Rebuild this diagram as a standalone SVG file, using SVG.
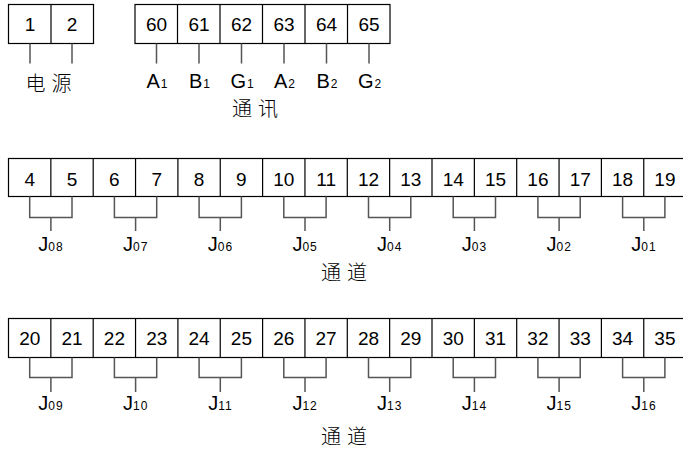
<svg xmlns="http://www.w3.org/2000/svg" width="683" height="452" viewBox="0 0 683 452">
<style>
.box{fill:#fff;stroke:#000;stroke-width:1.2}
.div{stroke:#000;stroke-width:1.2}
.ln{stroke:#555;stroke-width:1.5;fill:none}
.num{font-family:"Liberation Sans",Arial,sans-serif;font-size:19px;text-anchor:middle;fill:#000}
.lab{font-family:"Liberation Sans",Arial,sans-serif;font-size:20px;text-anchor:middle;fill:#000}
.sub{font-size:12px}
.jsub{font-size:12px;letter-spacing:1px}
.cn{font-family:"Noto Sans CJK SC",sans-serif;font-size:20px;font-weight:300;text-anchor:middle;fill:#000;letter-spacing:6px}
</style>
<rect width="683" height="452" fill="#fff"/>
<g id="power">
<rect class="box" x="8.5" y="4.5" width="85" height="39"/>
<line class="div" x1="51" y1="4.5" x2="51" y2="43.5"/>
<text class="num" x="30" y="31">1</text>
<text class="num" x="72" y="31">2</text>
<text class="cn" x="51.5" y="90.5">电源</text>
</g>
<g id="comm">
<rect class="box" x="135" y="4.5" width="255" height="39"/>
<line class="div" x1="177.5" y1="4.5" x2="177.5" y2="43.5"/>
<line class="div" x1="220" y1="4.5" x2="220" y2="43.5"/>
<line class="div" x1="262.5" y1="4.5" x2="262.5" y2="43.5"/>
<line class="div" x1="305" y1="4.5" x2="305" y2="43.5"/>
<line class="div" x1="347.5" y1="4.5" x2="347.5" y2="43.5"/>
<text class="num" x="156.5" y="31">60</text>
<text class="num" x="199" y="31">61</text>
<text class="num" x="241.5" y="31">62</text>
<text class="num" x="284" y="31">63</text>
<text class="num" x="326.5" y="31">64</text>
<text class="num" x="369" y="31">65</text>
<text class="lab" x="157" y="87.5">A<tspan class="sub" dx="1">1</tspan></text>
<text class="lab" x="199.5" y="87.5">B<tspan class="sub" dx="1">1</tspan></text>
<text class="lab" x="242" y="87.5">G<tspan class="sub" dx="1">1</tspan></text>
<text class="lab" x="284.5" y="87.5">A<tspan class="sub" dx="1">2</tspan></text>
<text class="lab" x="327" y="87.5">B<tspan class="sub" dx="1">2</tspan></text>
<text class="lab" x="369.5" y="87.5">G<tspan class="sub" dx="1">2</tspan></text>
<text class="cn" x="258" y="116">通讯</text>
</g>
<g id="row1">
<rect class="box" x="8.5" y="158.5" width="678" height="38"/>
<g class="div">
<line x1="50.85" y1="158.5" x2="50.85" y2="196.5"/>
<line x1="93.2" y1="158.5" x2="93.2" y2="196.5"/>
<line x1="135.55" y1="158.5" x2="135.55" y2="196.5"/>
<line x1="177.9" y1="158.5" x2="177.9" y2="196.5"/>
<line x1="220.25" y1="158.5" x2="220.25" y2="196.5"/>
<line x1="262.6" y1="158.5" x2="262.6" y2="196.5"/>
<line x1="304.95" y1="158.5" x2="304.95" y2="196.5"/>
<line x1="347.3" y1="158.5" x2="347.3" y2="196.5"/>
<line x1="389.65" y1="158.5" x2="389.65" y2="196.5"/>
<line x1="432" y1="158.5" x2="432" y2="196.5"/>
<line x1="474.35" y1="158.5" x2="474.35" y2="196.5"/>
<line x1="516.7" y1="158.5" x2="516.7" y2="196.5"/>
<line x1="559.05" y1="158.5" x2="559.05" y2="196.5"/>
<line x1="601.4" y1="158.5" x2="601.4" y2="196.5"/>
<line x1="643.75" y1="158.5" x2="643.75" y2="196.5"/>
</g>
<text class="num" x="29.7" y="186">4</text>
<text class="num" x="72" y="186">5</text>
<text class="num" x="114.4" y="186">6</text>
<text class="num" x="156.7" y="186">7</text>
<text class="num" x="199.1" y="186">8</text>
<text class="num" x="241.4" y="186">9</text>
<text class="num" x="283.8" y="186">10</text>
<text class="num" x="326.1" y="186">11</text>
<text class="num" x="368.5" y="186">12</text>
<text class="num" x="410.8" y="186">13</text>
<text class="num" x="453.2" y="186">14</text>
<text class="num" x="495.5" y="186">15</text>
<text class="num" x="537.9" y="186">16</text>
<text class="num" x="580.2" y="186">17</text>
<text class="num" x="622.6" y="186">18</text>
<text class="num" x="664.9" y="186">19</text>
<text class="lab" x="51" y="251">J<tspan class="jsub">08</tspan></text>
<text class="lab" x="135.7" y="251">J<tspan class="jsub">07</tspan></text>
<text class="lab" x="220.4" y="251">J<tspan class="jsub">06</tspan></text>
<text class="lab" x="305.1" y="251">J<tspan class="jsub">05</tspan></text>
<text class="lab" x="389.8" y="251">J<tspan class="jsub">04</tspan></text>
<text class="lab" x="474.5" y="251">J<tspan class="jsub">03</tspan></text>
<text class="lab" x="559.2" y="251">J<tspan class="jsub">02</tspan></text>
<text class="lab" x="643.9" y="251">J<tspan class="jsub">01</tspan></text>
<text class="cn" x="347" y="280">通道</text>
</g>
<g id="row2">
<rect class="box" x="8.5" y="318.5" width="678" height="39"/>
<g class="div">
<line x1="50.85" y1="318.5" x2="50.85" y2="357.5"/>
<line x1="93.2" y1="318.5" x2="93.2" y2="357.5"/>
<line x1="135.55" y1="318.5" x2="135.55" y2="357.5"/>
<line x1="177.9" y1="318.5" x2="177.9" y2="357.5"/>
<line x1="220.25" y1="318.5" x2="220.25" y2="357.5"/>
<line x1="262.6" y1="318.5" x2="262.6" y2="357.5"/>
<line x1="304.95" y1="318.5" x2="304.95" y2="357.5"/>
<line x1="347.3" y1="318.5" x2="347.3" y2="357.5"/>
<line x1="389.65" y1="318.5" x2="389.65" y2="357.5"/>
<line x1="432" y1="318.5" x2="432" y2="357.5"/>
<line x1="474.35" y1="318.5" x2="474.35" y2="357.5"/>
<line x1="516.7" y1="318.5" x2="516.7" y2="357.5"/>
<line x1="559.05" y1="318.5" x2="559.05" y2="357.5"/>
<line x1="601.4" y1="318.5" x2="601.4" y2="357.5"/>
<line x1="643.75" y1="318.5" x2="643.75" y2="357.5"/>
</g>
<text class="num" x="29.7" y="345">20</text>
<text class="num" x="72" y="345">21</text>
<text class="num" x="114.4" y="345">22</text>
<text class="num" x="156.7" y="345">23</text>
<text class="num" x="199.1" y="345">24</text>
<text class="num" x="241.4" y="345">25</text>
<text class="num" x="283.8" y="345">26</text>
<text class="num" x="326.1" y="345">27</text>
<text class="num" x="368.5" y="345">28</text>
<text class="num" x="410.8" y="345">29</text>
<text class="num" x="453.2" y="345">30</text>
<text class="num" x="495.5" y="345">31</text>
<text class="num" x="537.9" y="345">32</text>
<text class="num" x="580.2" y="345">33</text>
<text class="num" x="622.6" y="345">34</text>
<text class="num" x="664.9" y="345">35</text>
<text class="lab" x="51" y="409.5">J<tspan class="jsub">09</tspan></text>
<text class="lab" x="135.7" y="409.5">J<tspan class="jsub">10</tspan></text>
<text class="lab" x="220.4" y="409.5">J<tspan class="jsub">11</tspan></text>
<text class="lab" x="305.1" y="409.5">J<tspan class="jsub">12</tspan></text>
<text class="lab" x="389.8" y="409.5">J<tspan class="jsub">13</tspan></text>
<text class="lab" x="474.5" y="409.5">J<tspan class="jsub">14</tspan></text>
<text class="lab" x="559.2" y="409.5">J<tspan class="jsub">15</tspan></text>
<text class="lab" x="643.9" y="409.5">J<tspan class="jsub">16</tspan></text>
<text class="cn" x="347" y="444">通道</text>
</g>
<g id="connectors" class="ln">
<path d="M30 43.5V63.5M72 43.5V63.5"/>
<path d="M156.5 43.5V63.5M199 43.5V63.5M241.5 43.5V63.5M284 43.5V63.5M326.5 43.5V63.5M369 43.5V63.5"/>
<path d="M29.7 196.5V217.5H72V196.5M50.9 217.5V231"/>
<path d="M114.4 196.5V217.5H156.7V196.5M135.6 217.5V231"/>
<path d="M199.1 196.5V217.5H241.4V196.5M220.3 217.5V231"/>
<path d="M283.8 196.5V217.5H326.1V196.5M305 217.5V231"/>
<path d="M368.5 196.5V217.5H410.8V196.5M389.7 217.5V231"/>
<path d="M453.2 196.5V217.5H495.5V196.5M474.4 217.5V231"/>
<path d="M537.9 196.5V217.5H580.2V196.5M559.1 217.5V231"/>
<path d="M622.6 196.5V217.5H664.9V196.5M643.8 217.5V231"/>
<path d="M29.7 357.5V377.5H72V357.5M50.9 377.5V392"/>
<path d="M114.4 357.5V377.5H156.7V357.5M135.6 377.5V392"/>
<path d="M199.1 357.5V377.5H241.4V357.5M220.3 377.5V392"/>
<path d="M283.8 357.5V377.5H326.1V357.5M305 377.5V392"/>
<path d="M368.5 357.5V377.5H410.8V357.5M389.7 377.5V392"/>
<path d="M453.2 357.5V377.5H495.5V357.5M474.4 377.5V392"/>
<path d="M537.9 357.5V377.5H580.2V357.5M559.1 377.5V392"/>
<path d="M622.6 357.5V377.5H664.9V357.5M643.8 377.5V392"/>
</g>
</svg>
